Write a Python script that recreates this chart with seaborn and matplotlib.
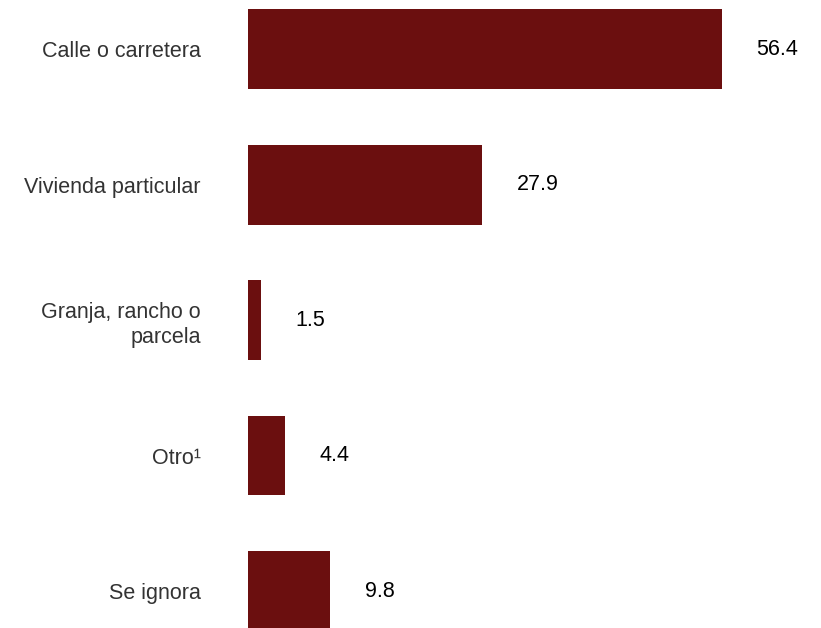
import pandas as pd
import matplotlib
matplotlib.use("Agg")
import matplotlib.pyplot as plt
import seaborn as sns

sns.set_style("white")
plt.rcParams['font.family'] = ['Liberation Sans', 'DejaVu Sans']

categorias = ["Calle o carretera", "Vivienda particular", "Granja, rancho o\nparcela", "Otro¹", "Se ignora"]
porcentajes = [56.4, 27.9, 1.5, 4.4, 9.8]

df = pd.DataFrame({"lugar": categorias, "pct": porcentajes})

fig = plt.figure(figsize=(8.21, 6.28), dpi=100)
ax = fig.add_axes([248 / 821, 0, 573 / 821, 1])

sns.barplot(data=df, x="pct", y="lugar", color="#6B0F0F", saturation=1,
            width=0.59, orient="h", linewidth=0, ax=ax)

for i, v in enumerate(porcentajes):
    ax.annotate(f"{v:.1f}", xy=(v, i), xytext=(25, 0), textcoords="offset points",
                ha="left", va="center", fontsize=15.5, color="black")

ax.set_xlim(0, 68.2)
ax.set_ylim(4.273, -0.362)
ax.set_xlabel("")
ax.set_ylabel("")
ax.set_xticks([])
ax.tick_params(axis="y", length=0, pad=34, labelsize=15.5, labelcolor="#333333")
for lbl in ax.get_yticklabels():
    lbl.set_horizontalalignment("right")
    lbl.set_linespacing(1.3)
sns.despine(ax=ax, left=True, bottom=True)

fig.savefig("out.png", dpi=100)
